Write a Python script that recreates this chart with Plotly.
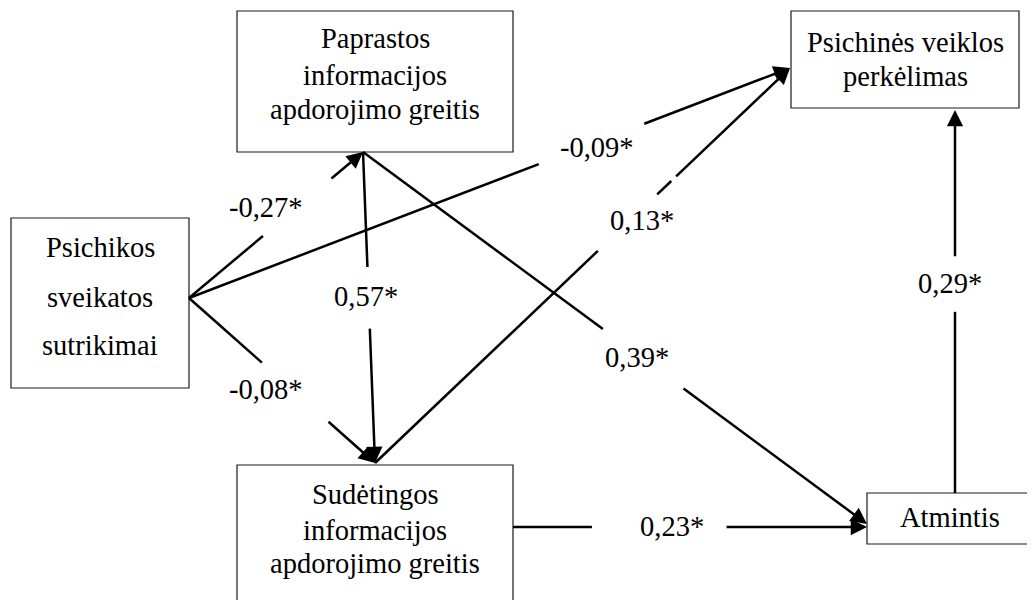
import plotly.graph_objects as go

# node texts (one entry per printed line)
node_keys = ["psich", "papr", "perk", "sud", "atm"]
node_lines = [
    ["Psichikos", "sveikatos", "sutrikimai"],
    ["Paprastos", "informacijos", "apdorojimo greitis"],
    ["Psichinės veiklos", "perkėlimas"],
    ["Sudėtingos", "informacijos", "apdorojimo greitis"],
    ["Atmintis"],
]

# path coefficients, same order as the paths below
path_from = ["psich", "psich", "psich", "papr", "sud", "papr", "sud", "atm"]
path_to = ["papr", "perk", "sud", "sud", "perk", "atm", "atm", "perk"]
coef_labels = ["-0,27*", "-0,09*", "-0,08*", "0,57*", "0,13*", "0,39*", "0,23*", "0,29*"]

# ---- layout (pixel space, y down) ----
FONT = "Liberation Serif"
FSIZE = 28.5
PAGE_PAD = 8  # the html body margin, so data units == page pixels

boxes = {
    "psich": dict(x0=11, x1=189, y0=218, y1=388, rows=[247, 297, 345]),
    "papr": dict(x0=237, x1=513, y0=11, y1=152, rows=[38, 75, 109]),
    "perk": dict(x0=791, x1=1019, y0=11, y1=108, rows=[42, 76]),
    "sud": dict(x0=237, x1=513, y0=465, y1=640, rows=[494, 530, 563]),
    "atm": dict(x0=867, x1=1032, y0=493, y1=544, rows=[517]),
}

# start / end points of every path, gaps (fractions along the path) and label spot
geom = [
    dict(p0=(189, 298), p1=(363, 152), gaps=[(0.425, 0.810)], lab=(266, 207)),
    dict(p0=(189, 298), p1=(790, 68), gaps=[(0.582, 0.755)], lab=(597, 147)),
    dict(p0=(189, 298), p1=(375, 463), gaps=[(0.392, 0.742)], lab=(266, 389)),
    dict(p0=(363, 152), p1=(375, 463), gaps=[(0.370, 0.563)], lab=(366, 296)),
    dict(p0=(375, 463), p1=(790, 68), gaps=[(0.537, 0.680), (0.714, 0.722)], lab=(642, 220)),
    dict(p0=(363, 152), p1=(867, 524), gaps=[(0.476, 0.633)], lab=(637, 357)),
    dict(p0=(513, 527), p1=(867, 527), gaps=[(0.223, 0.599)], lab=(672, 526)),
    dict(p0=(955, 493), p1=(955, 110), gaps=[(0.473, 0.614)], lab=(950, 283)),
]


def point_at(p0, p1, t):
    return p0[0] + (p1[0] - p0[0]) * t, p0[1] + (p1[1] - p0[1]) * t


fig = go.Figure()

# boxes
for key, lines in zip(node_keys, node_lines):
    b = boxes[key]
    fig.add_shape(type="rect", xref="x", yref="y",
                  x0=b["x0"], x1=b["x1"], y0=b["y0"], y1=b["y1"],
                  line=dict(color="#1a1a1a", width=1.2), fillcolor="white", layer="below")
    cx = (b["x0"] + b["x1"]) / 2
    for txt, yy in zip(lines, b["rows"]):
        fig.add_annotation(x=cx, y=yy, text=txt, showarrow=False,
                           xanchor="center", yanchor="middle",
                           font=dict(family=FONT, size=FSIZE, color="black"))

# paths: plain segments + last segment with arrowhead
seg_x, seg_y = [], []
for g, lab in zip(geom, coef_labels):
    cuts = [0.0]
    for a, b in g["gaps"]:
        cuts += [a, b]
    cuts.append(1.0)
    pieces = [(cuts[i], cuts[i + 1]) for i in range(0, len(cuts), 2)]
    for a, b in pieces[:-1]:
        xa, ya = point_at(g["p0"], g["p1"], a)
        xb, yb = point_at(g["p0"], g["p1"], b)
        seg_x += [xa, xb, None]
        seg_y += [ya, yb, None]
    a, _ = pieces[-1]
    xa, ya = point_at(g["p0"], g["p1"], a)
    fig.add_annotation(x=g["p1"][0], y=g["p1"][1], ax=xa, ay=ya,
                       xref="x", yref="y", axref="x", ayref="y",
                       text="", showarrow=True, arrowhead=2, arrowsize=1.3,
                       arrowwidth=2.5, arrowcolor="black", standoff=0)
    fig.add_annotation(x=g["lab"][0], y=g["lab"][1], text=lab, showarrow=False,
                       xanchor="center", yanchor="middle",
                       font=dict(family=FONT, size=FSIZE, color="black"))

fig.add_trace(go.Scatter(x=seg_x, y=seg_y, mode="lines",
                         line=dict(color="black", width=2.5),
                         hoverinfo="skip", showlegend=False))

fig.update_layout(width=1035 - PAGE_PAD, height=600 - PAGE_PAD,
                  margin=dict(l=0, r=0, t=0, b=0),
                  paper_bgcolor="white", plot_bgcolor="white",
                  xaxis=dict(range=[PAGE_PAD, 1035], visible=False, fixedrange=True),
                  yaxis=dict(range=[600, PAGE_PAD], visible=False, fixedrange=True),
                  showlegend=False)

fig.write_html("out.html", config={"displayModeBar": False})
